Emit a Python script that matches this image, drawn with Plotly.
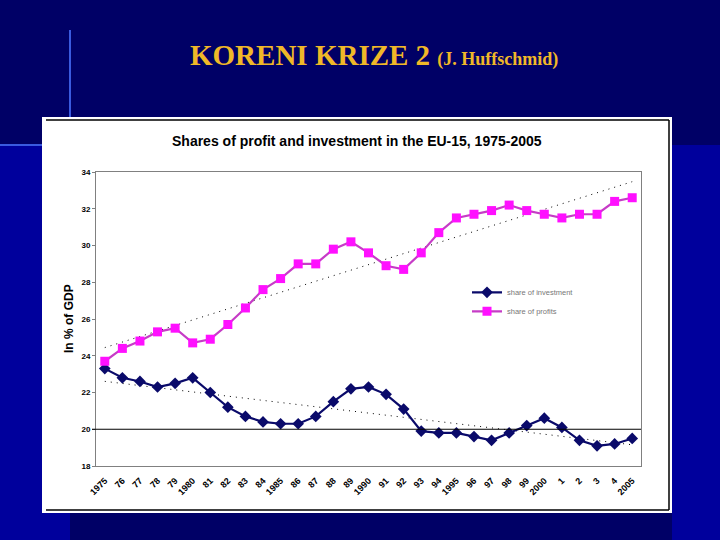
import numpy as np
import plotly.graph_objects as go

years = list(range(1975, 2006))
year_labels = ["1975", "76", "77", "78", "79", "1980", "81", "82", "83", "84",
               "1985", "86", "87", "88", "89", "1990", "91", "92", "93", "94",
               "1995", "96", "97", "98", "99", "2000", "1", "2", "3", "4", "2005"]

investment = [23.3, 22.8, 22.6, 22.3, 22.5, 22.8, 22.0, 21.2, 20.7, 20.4,
              20.3, 20.3, 20.7, 21.5, 22.2, 22.3, 21.9, 21.1, 19.9, 19.8,
              19.8, 19.6, 19.4, 19.8, 20.2, 20.6, 20.1, 19.4, 19.1, 19.2, 19.5]
profits = [23.7, 24.4, 24.8, 25.3, 25.5, 24.7, 24.9, 25.7, 26.6, 27.6,
           28.2, 29.0, 29.0, 29.8, 30.2, 29.6, 28.9, 28.7, 29.6, 30.7,
           31.5, 31.7, 31.9, 32.2, 31.9, 31.7, 31.5, 31.7, 31.7, 32.4, 32.6]

y_ticks = [18, 20, 22, 24, 26, 28, 30, 32, 34]

NAVY = "#000066"
BRIGHT = "#00009c"
GOLD = "#f0b828"

idx = np.arange(len(years))
inv_fit = np.polyval(np.polyfit(idx, investment, 1), idx)
prof_fit = np.polyval(np.polyfit(idx, profits, 1), idx)

fig = go.Figure()

# linear trend lines (sparse dots, like the Excel trendlines)
for fit in (inv_fit, prof_fit):
    fig.add_trace(go.Scatter(
        x=idx, y=fit, mode="lines",
        line=dict(color="#000000", width=1, dash="1px,5px"),
        hoverinfo="skip", showlegend=False,
    ))

fig.add_trace(go.Scatter(
    x=idx, y=investment, mode="lines+markers", name="share of investment",
    line=dict(color="#0a0a6a", width=2.2),
    marker=dict(symbol="diamond", size=9, color="#0a0a6a"),
))
fig.add_trace(go.Scatter(
    x=idx, y=profits, mode="lines+markers", name="share of profits",
    line=dict(color="#c63cc6", width=2.2),
    marker=dict(symbol="square", size=9, color="#ff10ff"),
))

W, H = 720, 540
L, R, T, B = 96, 79, 172, 74
pw, ph = W - L - R, H - T - B


def px(x):
    return (x - L) / pw


def py(y):
    # y measured from the top of the page in pixels
    return (H - y - B) / ph


P = dict(xref="paper", yref="paper", layer="below")
shapes = [
    # slide background pieces
    dict(type="rect", x0=px(0), x1=px(W), y0=py(H), y1=py(145), line_width=0,
         fillcolor=BRIGHT, **P),
    dict(type="rect", x0=px(70), x1=px(672), y0=py(H), y1=py(513), line_width=0,
         fillcolor=NAVY, **P),
    dict(type="line", x0=px(70), x1=px(70), y0=py(145), y1=py(30),
         line=dict(color="#3a5adf", width=2), **P),
    dict(type="line", x0=px(0), x1=px(42), y0=py(145), y1=py(145),
         line=dict(color="#3a5adf", width=2), **P),
    # white chart panel with its border lines
    dict(type="rect", x0=px(42), x1=px(672), y0=py(513), y1=py(117), line_width=0,
         fillcolor="#ffffff", **P),
    dict(type="line", x0=px(46), x1=px(669), y0=py(120), y1=py(120),
         line=dict(color="#000", width=1.5), **P),
    dict(type="line", x0=px(669), x1=px(669), y0=py(120), y1=py(510),
         line=dict(color="#000", width=1.5), **P),
    dict(type="line", x0=px(46), x1=px(669), y0=py(510), y1=py(510),
         line=dict(color="#000", width=1.5), **P),
    # line at 20 % of GDP
    dict(type="line", xref="paper", yref="y", x0=-4 / pw, x1=1, y0=20, y1=20,
         line=dict(color="#000000", width=1.2)),
]

fig.update_layout(
    width=W, height=H,
    margin=dict(l=L, r=R, t=T, b=B, pad=0),
    paper_bgcolor=NAVY,
    plot_bgcolor="rgba(0,0,0,0)",
    font=dict(family="Liberation Sans, Arial, sans-serif", color="#000000"),
    shapes=shapes,
    showlegend=True,
    legend=dict(x=px(467), y=0.64, xanchor="left", yanchor="top",
                bgcolor="rgba(0,0,0,0)", font=dict(size=7.5, color="#777777"),
                itemwidth=30, tracegroupgap=4),
    xaxis=dict(
        tickmode="array", tickvals=list(idx), ticktext=year_labels,
        tickangle=-45, tickfont=dict(size=9, color="#000000", weight="bold"),
        ticklabelstandoff=5,
        range=[-0.5, len(years) - 0.5],
        showgrid=False, zeroline=False,
        showline=True, linecolor="#808080", linewidth=1, mirror=True,
        ticks="", ticklen=0,
    ),
    yaxis=dict(
        range=[18, 34], tickvals=y_ticks,
        tickfont=dict(size=8, color="#000000", weight="bold"),
        showgrid=False, zeroline=False,
        showline=True, linecolor="#808080", linewidth=1, mirror=True,
        ticks="outside", ticklen=3, tickcolor="#808080",
    ),
    annotations=[
        dict(text="Shares of profit and investment in the EU-15, 1975-2005",
             xref="paper", yref="paper", x=px(357), y=py(141),
             xanchor="center", yanchor="middle", showarrow=False,
             font=dict(size=14, color="#000000", weight="bold")),
        dict(text="In % of GDP", textangle=-90,
             xref="paper", yref="paper", x=px(69), y=py(319),
             xanchor="center", yanchor="middle", showarrow=False,
             font=dict(size=12, color="#000000", weight="bold")),
        dict(text="KORENI KRIZE 2 <span style='font-size:18px'>(J. Huffschmid)</span>",
             xref="paper", yref="paper", x=px(374), y=py(55),
             xanchor="center", yanchor="middle", showarrow=False,
             font=dict(family="Liberation Serif, Times New Roman, serif",
                       size=29, color=GOLD, weight="bold")),
    ],
)

fig.write_html("out.html", config={"displayModeBar": False},
               post_script="document.body.style.margin='0';")
